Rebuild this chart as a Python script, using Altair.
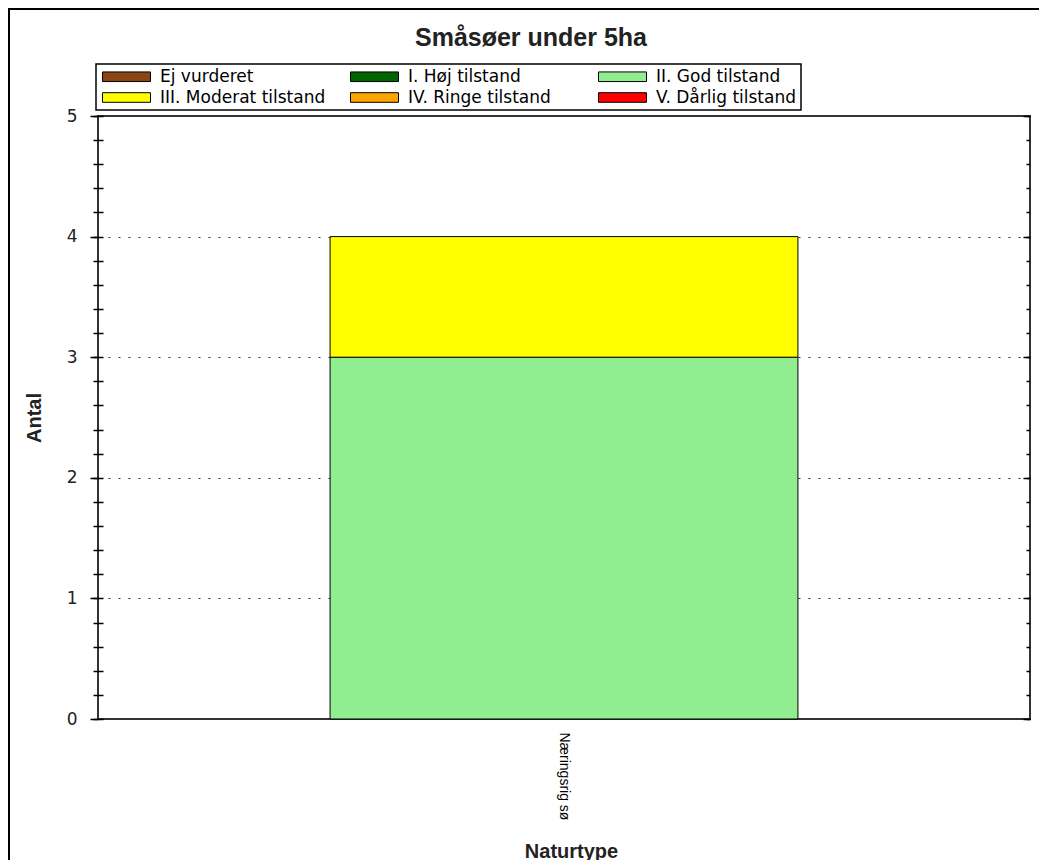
import altair as alt
import pandas as pd

# ---- data ----
naturtyper = ["Næringsrig sø"]
tilstande = [
    "Ej vurderet",
    "I. Høj tilstand",
    "II. God tilstand",
    "III. Moderat tilstand",
    "IV. Ringe tilstand",
    "V. Dårlig tilstand",
]
farver = ["#8B4513", "#006400", "#90EE90", "#FFFF00", "#FFA500", "#FF0000"]
antal_naeringsrig_so = [0, 0, 3, 1, 0, 0]

y_major = [0, 1, 2, 3, 4, 5]
y_minor = [0, 0.2, 0.4, 0.6, 0.8, 1, 1.2, 1.4, 1.6, 1.8, 2, 2.2, 2.4, 2.6, 2.8,
           3, 3.2, 3.4, 3.6, 3.8, 4, 4.2, 4.4, 4.6, 4.8, 5]

rows = []
for i, (t, a) in enumerate(zip(tilstande, antal_naeringsrig_so)):
    if a > 0:
        rows.append({"Naturtype": naturtyper[0], "Tilstand": t, "Antal": a, "Orden": i})
df = pd.DataFrame(rows)
tick_df = pd.DataFrame({"v": [0, 5]})
frame_df = pd.DataFrame({"k": [0]})

yscale = alt.Scale(domain=[0, 5], nice=False, zero=True)

bars = alt.Chart(df).mark_bar(
    stroke="black", strokeWidth=1, width=alt.RelativeBandSize(0.502)
).encode(
    x=alt.X(
        "Naturtype:N",
        scale=alt.Scale(paddingInner=0, paddingOuter=0),
        axis=alt.Axis(
            orient="bottom", ticks=False, domain=False, labelAngle=90,
            labelFont="Liberation Sans", labelFontSize=14, labelPadding=13,
            labelColor="black",
            title="Naturtype", titleFont="Liberation Sans", titleFontSize=20,
            titleFontWeight="bold", titleColor="#222", titleY=138,
            titleX=473, titleBaseline="alphabetic",
        ),
    ),
    y=alt.Y(
        "Antal:Q", stack="zero", scale=yscale,
        axis=alt.Axis(
            orient="left", values=y_major, tickSize=8, tickColor="black",
            tickWidth=1.5, domain=False, grid=True, gridDash=[2, 8],
            gridColor="#333", gridWidth=1,
            labelFont="DejaVu Sans", labelFontSize=17, labelPadding=13,
            labelColor="#222",
            title="Antal", titleFont="Liberation Sans", titleFontSize=20,
            titleFontWeight="bold", titleColor="#222", titleX=-64,
            titleBaseline="middle",
        ),
    ),
    color=alt.Color(
        "Tilstand:N",
        scale=alt.Scale(domain=tilstande, range=farver),
        legend=alt.Legend(
            title=None, orient="none", legendX=-2, legendY=-52, columns=3,
            direction="horizontal",
            gridAlign="all", columnPadding=22, rowPadding=3, padding=4,
            strokeColor="black", fillColor="white",
            symbolType="M-1,-0.8H7V0.8H-1Z", symbolSize=144,
            symbolStrokeColor="black", symbolStrokeWidth=1, symbolOpacity=1,
            labelFont="DejaVu Sans", labelFontSize=17, labelOffset=43,
            labelLimit=400, labelColor="black",
        ),
    ),
    order=alt.Order("Orden:Q", sort="ascending"),
)


def tick_layer(orient, values, size, offset):
    return alt.Chart(tick_df).mark_point(opacity=0).encode(
        y=alt.Y(
            "v:Q", scale=yscale,
            axis=alt.Axis(
                orient=orient, values=values, tickSize=size, offset=offset,
                labels=False, domain=False, grid=False, title=None,
                tickColor="black", tickWidth=1.5,
            ),
        )
    )


left_minor = tick_layer("left", y_minor, 10, -5)
right_minor = tick_layer("right", y_minor, 4, -4)
right_major = tick_layer("right", y_major, 7, -7)

frame = alt.Chart(frame_df).mark_rect(
    fillOpacity=0, stroke="black", strokeWidth=2
).encode(
    x=alt.value(-89), x2=alt.value(1000), y=alt.value(-107), y2=alt.value(800)
)

chart = alt.layer(frame, bars, left_minor, right_minor, right_major).resolve_axis(
    y="independent"
).properties(
    width=932,
    height=603,
    autosize="none",
    background="white",
    padding={"left": 90, "top": 108, "right": 9, "bottom": 141},
    title=alt.Title(
        "Småsøer under 5ha", font="Liberation Sans", fontSize=25,
        fontWeight="bold", color="#222", anchor="middle", frame="group",
        dx=-33, offset=0, dy=63, baseline="alphabetic",
    ),
).configure_view(
    stroke="#333", strokeWidth=2
).configure_legend(
    strokeWidth=1.5
)

chart.save("out.html", embed_options={"renderer": "svg", "actions": False})
